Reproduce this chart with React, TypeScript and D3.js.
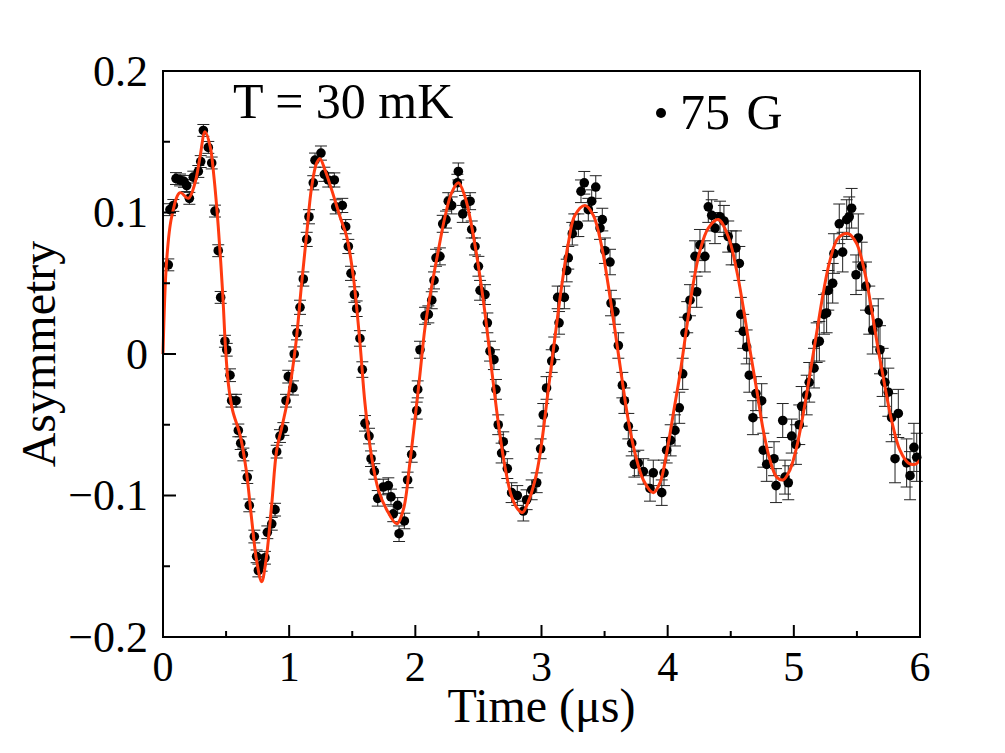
import * as d3 from 'd3';
import { useEffect, useRef } from 'react';

// measured points (time in μs, asymmetry)
const times = [
  0.042, 0.055, 0.082, 0.103, 0.135, 0.166, 0.188, 0.209, 0.24, 0.28, 0.299, 0.32, 0.359, 0.386, 0.412, 0.438,
  0.457, 0.491, 0.505, 0.531, 0.544, 0.579, 0.597, 0.616, 0.637, 0.668, 0.684, 0.724, 0.742, 0.756, 0.782, 0.808,
  0.827, 0.862, 0.888, 0.901, 0.927, 0.954, 0.975, 0.993, 1.03, 1.04, 1.062,
  1.086, 1.112, 1.139, 1.157, 1.191, 1.205, 1.252, 1.279, 1.31, 1.358, 1.369, 1.421, 1.448, 1.469, 1.49, 1.517,
  1.535, 1.561, 1.58, 1.601, 1.633, 1.649, 1.675, 1.702, 1.746, 1.786, 1.807, 1.825, 1.86, 1.871, 1.913, 1.939,
  1.971, 2.011, 2.019, 2.037,
  2.077, 2.103, 2.13, 2.148, 2.164, 2.195, 2.217, 2.243, 2.261, 2.288, 2.333, 2.341, 2.376, 2.394, 2.434, 2.447,
  2.473, 2.5, 2.513, 2.552, 2.571, 2.592, 2.623, 2.639, 2.657, 2.684, 2.697, 2.729, 2.763, 2.808, 2.856, 2.882,
  2.922, 2.962, 2.993, 3.014, 3.04,
  3.081, 3.101, 3.128, 3.139, 3.181, 3.2, 3.212, 3.244, 3.26, 3.292, 3.313, 3.339, 3.371, 3.398, 3.43, 3.464,
  3.482, 3.503, 3.543, 3.551, 3.582, 3.609, 3.641, 3.657, 3.688, 3.715, 3.736, 3.767, 3.807,
  3.86, 3.886, 3.953, 3.971, 3.992, 4.024, 4.058, 4.092, 4.119, 4.137, 4.155, 4.177, 4.217, 4.23, 4.256, 4.295,
  4.322, 4.349, 4.375, 4.415, 4.446, 4.48, 4.507, 4.541, 4.568, 4.58, 4.599, 4.626, 4.647, 4.676, 4.7, 4.745,
  4.758, 4.785, 4.843, 4.859, 4.912, 4.93, 4.956, 4.983, 5.017, 5.043, 5.062, 5.102, 5.122, 5.16, 5.181, 5.202,
  5.239, 5.26, 5.273, 5.308, 5.318, 5.36, 5.387, 5.419, 5.439, 5.458, 5.493, 5.511, 5.538, 5.572, 5.598, 5.625,
  5.669, 5.683, 5.704, 5.722, 5.749, 5.775, 5.802, 5.828, 5.894, 5.921, 5.952, 5.974,
];
const asym = [
  0.063, 0.102, 0.105, 0.124, 0.123, 0.122, 0.119, 0.11, 0.125, 0.129, 0.136, 0.158, 0.146, 0.135, 0.101, 0.073,
  0.04, 0.009, 0.003, -0.015, -0.033, -0.033, -0.054, -0.063, -0.071, -0.087, -0.107, -0.129, -0.143, -0.153, -0.149, -0.144,
  -0.126, -0.12, -0.11, -0.069, -0.058, -0.053, -0.033, -0.016, -0.024, 0.0, 0.015,
  0.033, 0.053, 0.081, 0.097, 0.121, 0.137, 0.142, 0.127, 0.123, 0.123, 0.104, 0.105, 0.09, 0.076, 0.057, 0.042,
  0.032, 0.011, -0.011, -0.049, -0.058, -0.074, -0.083, -0.102, -0.094, -0.093, -0.101, -0.113, -0.107, -0.127, -0.118, -0.089,
  -0.071, -0.04, -0.025, 0.003,
  0.027, 0.028, 0.038, 0.052, 0.068, 0.069, 0.092, 0.095, 0.108, 0.105, 0.121, 0.129, 0.099, 0.106, 0.108, 0.088,
  0.076, 0.062, 0.045, 0.042, 0.022, 0.002, -0.004, -0.025, -0.05, -0.07, -0.062, -0.081, -0.098, -0.1, -0.111, -0.103,
  -0.096, -0.091, -0.067, -0.043, -0.024,
  -0.005, 0.004, 0.04, 0.022, 0.04, 0.059, 0.068, 0.085, 0.091, 0.091, 0.115, 0.121, 0.102, 0.108, 0.118, 0.089,
  0.095, 0.073, 0.065, 0.036, 0.03, 0.006, -0.022, -0.033, -0.051, -0.063, -0.078, -0.077, -0.083,
  -0.095, -0.084, -0.098, -0.084, -0.068, -0.061, -0.054, -0.038, -0.014, 0.015, 0.026, 0.038, 0.069, 0.044, 0.077, 0.069,
  0.104, 0.098, 0.089, 0.097, 0.094, 0.083, 0.075, 0.075, 0.064, 0.028, 0.016, 0.005, -0.015, -0.045, -0.028, -0.033,
  -0.068, -0.078, -0.074, -0.093, -0.047, -0.087, -0.091, -0.058, -0.064, -0.05, -0.037, -0.029, -0.02, -0.01, 0.008, 0.009,
  0.028, 0.029, 0.045, 0.05, 0.071, 0.092, 0.072, 0.095, 0.097, 0.103, 0.056, 0.082, 0.062, 0.048, 0.031, 0.017,
  0.022, 0.003, -0.013, -0.02, -0.027, -0.045, -0.074, -0.042, -0.077, -0.086, -0.066, -0.073,
];
// error bar half-height for each 0.5 μs slice
const errBySlice = [0.0042, 0.0045, 0.005, 0.0055, 0.006, 0.007, 0.008, 0.009, 0.011, 0.012, 0.014, 0.017];

// fit curve
const fitTimes = [
  0, 0.029, 0.069, 0.135, 0.201, 0.254, 0.293, 0.333, 0.373, 0.404, 0.438, 0.473, 0.495, 0.518, 0.552, 0.61,
  0.658, 0.703, 0.742, 0.782, 0.816, 0.862, 0.901, 0.949, 0.993, 1.05, 1.099, 1.139, 1.178, 1.218, 1.244, 1.284,
  1.337, 1.403, 1.456, 1.508, 1.561, 1.601, 1.654, 1.707, 1.773, 1.852, 1.905, 1.958, 2.011, 2.037, 2.077, 2.13,
  2.182, 2.235, 2.288, 2.341, 2.394, 2.447, 2.5, 2.552, 2.605, 2.658, 2.711, 2.764, 2.816, 2.85, 2.909, 2.962,
  3.001, 3.054, 3.107, 3.16, 3.212, 3.265, 3.345, 3.411, 3.477, 3.53, 3.582, 3.635, 3.688, 3.741, 3.807, 3.886,
  3.939, 3.992, 4.045, 4.098, 4.151, 4.203, 4.256, 4.322, 4.401, 4.48, 4.547, 4.599, 4.652, 4.705, 4.758, 4.811,
  4.864, 4.916, 4.969, 5.022, 5.075, 5.128, 5.181, 5.233, 5.286, 5.352, 5.432, 5.498, 5.564, 5.617, 5.669, 5.722,
  5.775, 5.841, 5.907, 5.96, 6.0,
];
const fitAsym = [
  0, 0.066, 0.097, 0.114, 0.11, 0.121, 0.139, 0.157, 0.147, 0.125, 0.09, 0.043, 0.005, -0.021, -0.04, -0.057,
  -0.081, -0.117, -0.146, -0.161, -0.146, -0.106, -0.068, -0.049, -0.03, 0.005, 0.05, 0.085, 0.118, 0.135, 0.138, 0.13,
  0.116, 0.097, 0.083, 0.055, 0.008, -0.035, -0.073, -0.096, -0.11, -0.12, -0.11, -0.076, -0.035, -0.014, 0.019, 0.048,
  0.073, 0.097, 0.114, 0.121, 0.111, 0.09, 0.062, 0.029, -0.011, -0.049, -0.08, -0.101, -0.11, -0.112, -0.101, -0.084,
  -0.063, -0.025, 0.012, 0.048, 0.078, 0.098, 0.105, 0.098, 0.076, 0.048, 0.017, -0.016, -0.047, -0.07, -0.089, -0.098,
  -0.091, -0.07, -0.042, -0.014, 0.019, 0.05, 0.073, 0.089, 0.095, 0.083, 0.059, 0.033, 0.003, -0.025, -0.054, -0.075,
  -0.087, -0.089, -0.082, -0.066, -0.042, -0.014, 0.015, 0.043, 0.066, 0.082, 0.085, 0.078, 0.057, 0.031, 0.003, -0.023,
  -0.047, -0.068, -0.077, -0.078, -0.075,
];

const xTicks = [0, 1, 2, 3, 4, 5, 6];
const xMinorTicks = [0.5, 1.5, 2.5, 3.5, 4.5, 5.5];
const yTicks = [-0.2, -0.1, 0, 0.1, 0.2];
const yMinorTicks = [-0.15, -0.05, 0.05, 0.15];

const FONT = "'Liberation Serif', 'Times New Roman', serif";

export default function App() {
  const ref = useRef<SVGSVGElement>(null);

  useEffect(() => {
    if (!ref.current) return;
    const width = 1005,
      height = 753;
    const margin = { top: 71, right: 85, bottom: 116, left: 163 };

    const svg = d3.select(ref.current);
    svg.selectAll('*').remove();

    const x = d3.scaleLinear().domain([0, 6]).range([margin.left, width - margin.right]);
    const y = d3.scaleLinear().domain([-0.2, 0.2]).range([height - margin.bottom, margin.top]);

    const data = times.map((t, i) => ({
      t,
      a: asym[i],
      e: errBySlice[Math.min(errBySlice.length - 1, Math.floor(t / 0.5))],
    }));

    // error bars
    const bars = svg.append('g').attr('stroke', '#222').attr('stroke-width', 1);
    bars
      .selectAll('line.v')
      .data(data)
      .join('line')
      .attr('class', 'v')
      .attr('x1', (d) => x(d.t))
      .attr('x2', (d) => x(d.t))
      .attr('y1', (d) => y(d.a + d.e))
      .attr('y2', (d) => y(d.a - d.e));
    [1, -1].forEach((s) => {
      bars
        .selectAll(`line.c${s}`)
        .data(data)
        .join('line')
        .attr('class', `c${s}`)
        .attr('x1', (d) => x(d.t) - 6)
        .attr('x2', (d) => x(d.t) + 6)
        .attr('y1', (d) => y(d.a + s * d.e))
        .attr('y2', (d) => y(d.a + s * d.e));
    });

    // points
    svg
      .append('g')
      .selectAll('circle')
      .data(data)
      .join('circle')
      .attr('cx', (d) => x(d.t))
      .attr('cy', (d) => y(d.a))
      .attr('r', 4.8)
      .attr('fill', '#000');

    // fit
    const line = d3
      .line<number>()
      .x((d) => x(d))
      .y((_, i) => y(fitAsym[i]))
      .curve(d3.curveCatmullRom.alpha(0.5));
    svg
      .append('path')
      .attr('d', line(fitTimes))
      .attr('fill', 'none')
      .attr('stroke', '#ff3a10')
      .attr('stroke-width', 3);

    // frame
    svg
      .append('rect')
      .attr('x', margin.left)
      .attr('y', margin.top)
      .attr('width', width - margin.left - margin.right)
      .attr('height', height - margin.top - margin.bottom)
      .attr('fill', 'none')
      .attr('stroke', '#000')
      .attr('stroke-width', 2);

    // ticks, pointing inwards
    const ticks = svg.append('g').attr('stroke', '#000').attr('stroke-width', 2);
    const x0 = margin.left;
    const y0 = height - margin.bottom;
    yTicks.forEach((v) => ticks.append('line').attr('x1', x0).attr('x2', x0 + 13).attr('y1', y(v)).attr('y2', y(v)));
    yMinorTicks.forEach((v) => ticks.append('line').attr('x1', x0).attr('x2', x0 + 7).attr('y1', y(v)).attr('y2', y(v)));
    xTicks.forEach((v) => ticks.append('line').attr('x1', x(v)).attr('x2', x(v)).attr('y1', y0).attr('y2', y0 - 12));
    xMinorTicks.forEach((v) => ticks.append('line').attr('x1', x(v)).attr('x2', x(v)).attr('y1', y0).attr('y2', y0 - 6));

    const labels = svg.append('g').attr('font-family', FONT).attr('fill', '#000');
    const fmt = (v: number) => (v === 0 ? '0' : d3.format('.1f')(v));
    yTicks.forEach((v) =>
      labels
        .append('text')
        .text(fmt(v))
        .attr('x', x0 - 15)
        .attr('y', y(v))
        .attr('dy', '0.34em')
        .attr('text-anchor', 'end')
        .attr('font-size', 44),
    );
    xTicks.forEach((v) =>
      labels
        .append('text')
        .text(String(v))
        .attr('x', x(v))
        .attr('y', y0 + 44)
        .attr('text-anchor', 'middle')
        .attr('font-size', 42),
    );

    labels
      .append('text')
      .text('Time (μs)')
      .attr('x', (x(0) + x(6)) / 2)
      .attr('y', 722)
      .attr('text-anchor', 'middle')
      .attr('font-size', 48);
    labels
      .append('text')
      .text('Asymmetry')
      .attr('transform', `translate(55,${y(0)}) rotate(-90)`)
      .attr('text-anchor', 'middle')
      .attr('font-size', 48);

    labels.append('text').text('T = 30 mK').attr('x', 233).attr('y', 118).attr('font-size', 50);

    // legend
    svg.append('circle').attr('cx', 661).attr('cy', 113).attr('r', 5).attr('fill', '#000');
    labels
      .append('text')
      .text('75 G')
      .attr('x', 680)
      .attr('y', 129)
      .attr('font-size', 50)
      .attr('word-spacing', 4);
  }, []);

  return <svg ref={ref} width={1005} height={753} style={{ position: 'absolute', left: 0, top: 0, background: '#fff' }} />;
}
